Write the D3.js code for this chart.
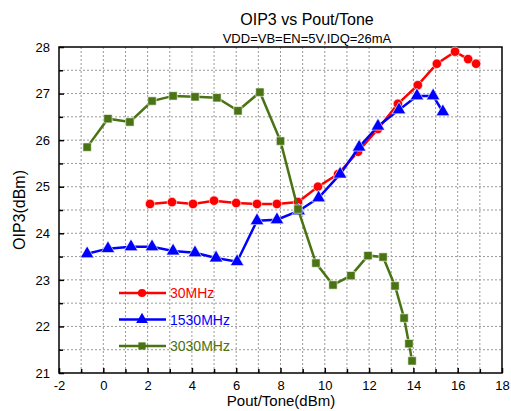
<!DOCTYPE html>
<html>
<head>
<meta charset="utf-8">
<script src="https://cdn.jsdelivr.net/npm/d3@7"></script>
<style>
  body { margin: 0; background: #fff; }
  text { font-family: "Liberation Sans", Arial, sans-serif; }
</style>
</head>
<body>
<svg id="chart" width="511" height="411"></svg>
<script>
// values
const x30 = [2.11, 3.10, 4.05, 5.0, 6.0, 6.94, 7.84, 8.79, 9.69, 10.6, 11.5, 12.4, 13.3, 14.2, 15.06, 15.88, 16.47, 16.83];
const y30 = [24.63, 24.67, 24.63, 24.70, 24.65, 24.63, 24.63, 24.67, 25.0, 25.27, 25.75, 26.24, 26.78, 27.18, 27.64, 27.9, 27.74, 27.64];

const x1530 = [-0.73, 0.21, 1.25, 2.2, 3.15, 4.14, 5.09, 6.04, 6.94, 7.84, 8.82, 9.72, 10.69, 11.55, 12.4, 13.35, 14.16, 14.89, 15.33];
const y1530 = [23.56, 23.67, 23.71, 23.71, 23.62, 23.58, 23.47, 23.39, 24.27, 24.29, 24.48, 24.76, 25.27, 25.85, 26.3, 26.65, 26.95, 26.95, 26.61];

const x3030 = [-0.73, 0.21, 1.2, 2.2, 3.15, 4.14, 5.13, 6.08, 7.07, 8.0, 8.79, 9.6, 10.37, 11.18, 11.95, 12.63, 13.17, 13.58, 13.8, 13.94];
const y3030 = [25.85, 26.46, 26.39, 26.84, 26.95, 26.93, 26.91, 26.63, 27.03, 25.98, 24.52, 23.36, 22.89, 23.09, 23.52, 23.49, 22.87, 22.18, 21.63, 21.26];

const xTicks = [-2, 0, 2, 4, 6, 8, 10, 12, 14, 16, 18];
const yTicks = [21, 22, 23, 24, 25, 26, 27, 28];

const series = [
  { name: "30MHz", xs: x30, ys: y30, color: "#ff0000", symbol: d3.symbolCircle, size: 70 },
  { name: "1530MHz", xs: x1530, ys: y1530, color: "#0000ff", symbol: d3.symbolTriangle, size: 80 },
  { name: "3030MHz", xs: x3030, ys: y3030, color: "#4a7313", symbol: d3.symbolSquare, size: 70 }
];

const margin = { top: 47, right: 9, bottom: 38, left: 59 };
const W = 511, H = 411;
const svg = d3.select("#chart");

const x = d3.scaleLinear().domain([-2, 18]).range([margin.left, W - margin.right]);
const y = d3.scaleLinear().domain([21, 28]).range([H - margin.bottom, margin.top]);

// grid
const grid = svg.append("g").attr("stroke", "#999").attr("stroke-width", 1).attr("stroke-dasharray", "2,2");
grid.selectAll("line.v")
    .data(d3.range(-1, 18, 1))
  .enter().append("line")
    .attr("x1", d => x(d)).attr("x2", d => x(d))
    .attr("y1", y(21)).attr("y2", y(28));
grid.selectAll("line.h")
    .data(d3.range(21.5, 28, 0.5))
  .enter().append("line")
    .attr("x1", x(-2)).attr("x2", x(18))
    .attr("y1", d => y(d)).attr("y2", d => y(d));

// axes, ticks pointing inward
const fmt = d => String(d);
svg.append("g")
    .attr("transform", `translate(0,${y(21)})`)
    .call(d3.axisBottom(x).tickValues(xTicks).tickSize(-5).tickPadding(8).tickFormat(fmt));
svg.append("g")
    .attr("transform", `translate(0,${y(21)})`)
    .call(d3.axisBottom(x).tickValues(d3.range(-1, 18, 2)).tickSize(-4).tickFormat(""))
    .select(".domain").remove();
svg.append("g")
    .attr("transform", `translate(${x(-2)},0)`)
    .call(d3.axisLeft(y).tickValues(yTicks).tickSize(-5).tickPadding(9).tickFormat(fmt));
svg.append("g")
    .attr("transform", `translate(${x(-2)},0)`)
    .call(d3.axisLeft(y).tickValues(d3.range(21.5, 28, 1)).tickSize(-4).tickFormat(""))
    .select(".domain").remove();

svg.selectAll(".tick line").attr("stroke", "#000").attr("stroke-width", 1.5);
svg.selectAll(".tick text").attr("font-size", 13).attr("fill", "#000")
    .style("font-family", "'Liberation Sans', Arial, sans-serif");

// frame
svg.append("rect")
    .attr("x", x(-2)).attr("y", y(28))
    .attr("width", x(18) - x(-2)).attr("height", y(21) - y(28))
    .attr("fill", "none").attr("stroke", "#000").attr("stroke-width", 1.5);
svg.selectAll(".domain").remove();

// lines and markers
const line = d3.line().x(d => x(d[0])).y(d => y(d[1]));
series.forEach(s => {
  const pts = s.xs.map((v, i) => [v, s.ys[i]]);
  svg.append("path")
      .datum(pts)
      .attr("d", line)
      .attr("fill", "none")
      .attr("stroke", s.color)
      .attr("stroke-width", 2.5);
  svg.selectAll(null)
      .data(pts)
    .enter().append("path")
      .attr("d", d3.symbol().type(s.symbol).size(s.size))
      .attr("transform", d => `translate(${x(d[0])},${y(d[1])})`)
      .attr("fill", s.color)
      .attr("stroke", "#fff")
      .attr("stroke-width", 0.6);
});

// legend
const legend = svg.append("g");
series.forEach((s, i) => {
  const ly = 293 + i * 26.5;
  legend.append("line")
      .attr("x1", 119).attr("x2", 166).attr("y1", ly).attr("y2", ly)
      .attr("stroke", s.color).attr("stroke-width", 2.5);
  legend.append("path")
      .attr("d", d3.symbol().type(s.symbol).size(s.size * 0.75))
      .attr("transform", `translate(142,${ly})`)
      .attr("fill", s.color);
  legend.append("text")
      .attr("x", 170).attr("y", ly + 5)
      .attr("font-size", 14)
      .attr("fill", s.color)
      .text(s.name);
});

// titles
svg.append("text")
    .attr("x", 307).attr("y", 25)
    .attr("text-anchor", "middle")
    .attr("font-size", 16)
    .text("OIP3 vs Pout/Tone");
svg.append("text")
    .attr("x", 307).attr("y", 43)
    .attr("text-anchor", "middle")
    .attr("font-size", 13)
    .text("VDD=VB=EN=5V,IDQ=26mA");
svg.append("text")
    .attr("x", 281).attr("y", 406)
    .attr("text-anchor", "middle")
    .attr("font-size", 15)
    .text("Pout/Tone(dBm)");
svg.append("text")
    .attr("transform", `translate(25,${(y(21) + y(28)) / 2}) rotate(-90)`)
    .attr("text-anchor", "middle")
    .attr("font-size", 16)
    .text("OIP3(dBm)");
</script>
</body>
</html>
